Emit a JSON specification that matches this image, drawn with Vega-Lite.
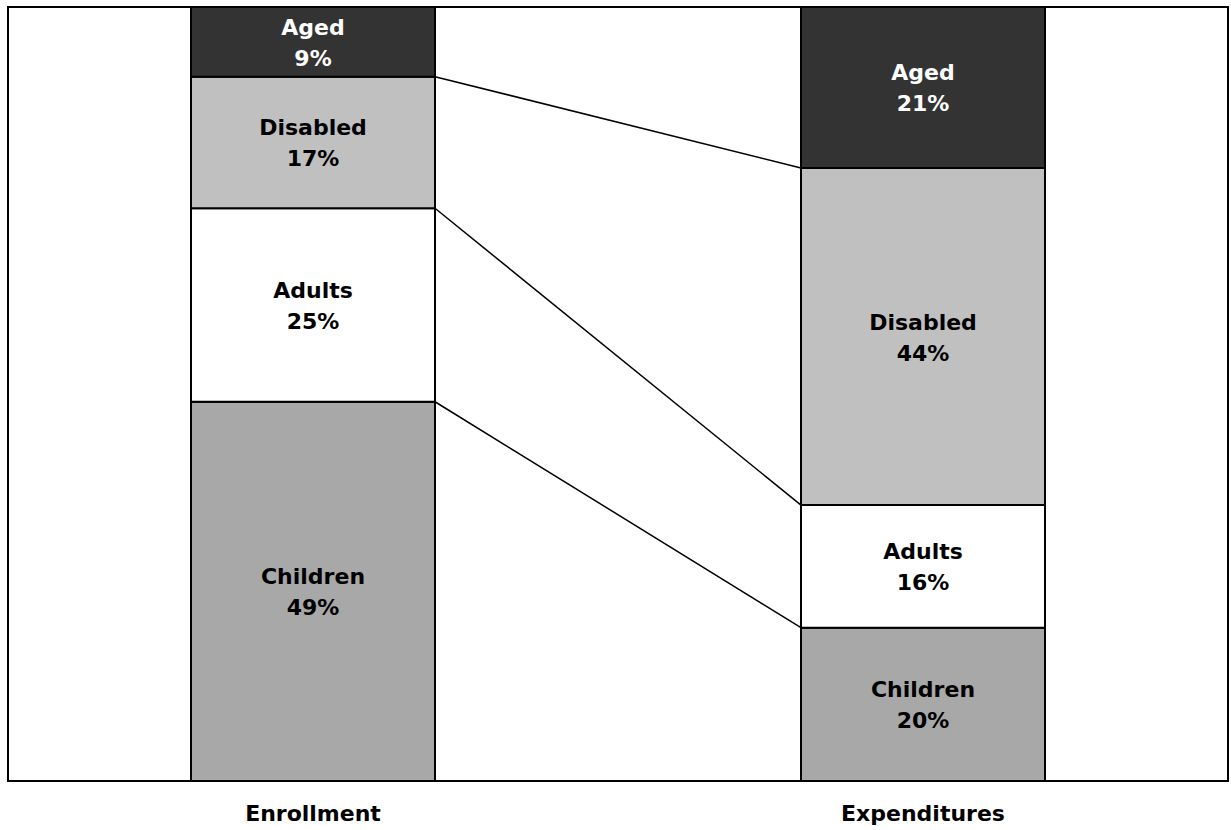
{
  "$schema": "https://vega.github.io/schema/vega-lite/v6.json",
  "width": 1220,
  "height": 774,
  "autosize": {"type": "none"},
  "padding": {"left": 8, "top": 7, "right": 3, "bottom": 49},
  "background": "white",
  "config": {
    "view": {"stroke": "black", "strokeWidth": 2},
    "font": "DejaVu Sans"
  },
  "data": {
    "values": [
      {"program": "Enrollment", "group": "Children", "pct": 49, "order": 1},
      {"program": "Enrollment", "group": "Adults", "pct": 25, "order": 2},
      {"program": "Enrollment", "group": "Disabled", "pct": 17, "order": 3},
      {"program": "Enrollment", "group": "Aged", "pct": 9, "order": 4},
      {"program": "Expenditures", "group": "Children", "pct": 20, "order": 1},
      {"program": "Expenditures", "group": "Adults", "pct": 16, "order": 2},
      {"program": "Expenditures", "group": "Disabled", "pct": 44, "order": 3},
      {"program": "Expenditures", "group": "Aged", "pct": 21, "order": 4}
    ]
  },
  "transform": [
    {
      "stack": "pct",
      "groupby": ["program"],
      "sort": [{"field": "order", "order": "ascending"}],
      "offset": "normalize",
      "as": ["lo", "hi"]
    },
    {"calculate": "(datum.lo + datum.hi) / 2", "as": "mid"},
    {"calculate": "datum.group + '\\n' + datum.pct + '%'", "as": "label"}
  ],
  "encoding": {
    "x": {
      "field": "program",
      "type": "nominal",
      "sort": ["Enrollment", "Expenditures"],
      "scale": {"paddingInner": 0.6, "paddingOuter": 0.3},
      "axis": {
        "title": null,
        "domain": false,
        "ticks": false,
        "labelAngle": 0,
        "labelFontSize": 22,
        "labelFontWeight": "bold",
        "labelColor": "black",
        "labelPadding": 22
      }
    }
  },
  "layer": [
    {
      "mark": {"type": "bar", "stroke": "black", "strokeWidth": 2},
      "encoding": {
        "y": {
          "field": "lo",
          "type": "quantitative",
          "scale": {"domain": [0, 1], "nice": false, "zero": true},
          "axis": null
        },
        "y2": {"field": "hi"},
        "fill": {
          "field": "group",
          "type": "nominal",
          "scale": {
            "domain": ["Aged", "Disabled", "Adults", "Children"],
            "range": ["#333333", "#c0c0c0", "#ffffff", "#a8a8a8"]
          },
          "legend": null
        }
      }
    },
    {
      "transform": [
        {"filter": "datum.group != 'Aged'"},
        {"pivot": "program", "value": "hi", "groupby": ["group"]}
      ],
      "mark": {"type": "rule", "color": "black", "strokeWidth": 1.5},
      "encoding": {
        "x": {"datum": "Enrollment", "type": "nominal", "bandPosition": 1},
        "x2": {"datum": "Expenditures", "bandPosition": 0},
        "y": {"field": "Enrollment", "type": "quantitative"},
        "y2": {"field": "Expenditures"}
      }
    },
    {
      "mark": {
        "type": "text",
        "lineBreak": "\n",
        "fontSize": 22,
        "fontWeight": "bold",
        "lineHeight": 31,
        "baseline": "middle",
        "align": "center",
        "dy": -14
      },
      "encoding": {
        "y": {"field": "mid", "type": "quantitative"},
        "text": {"field": "label"},
        "color": {
          "condition": {"test": "datum.group === 'Aged'", "value": "white"},
          "value": "black"
        }
      }
    }
  ]
}
